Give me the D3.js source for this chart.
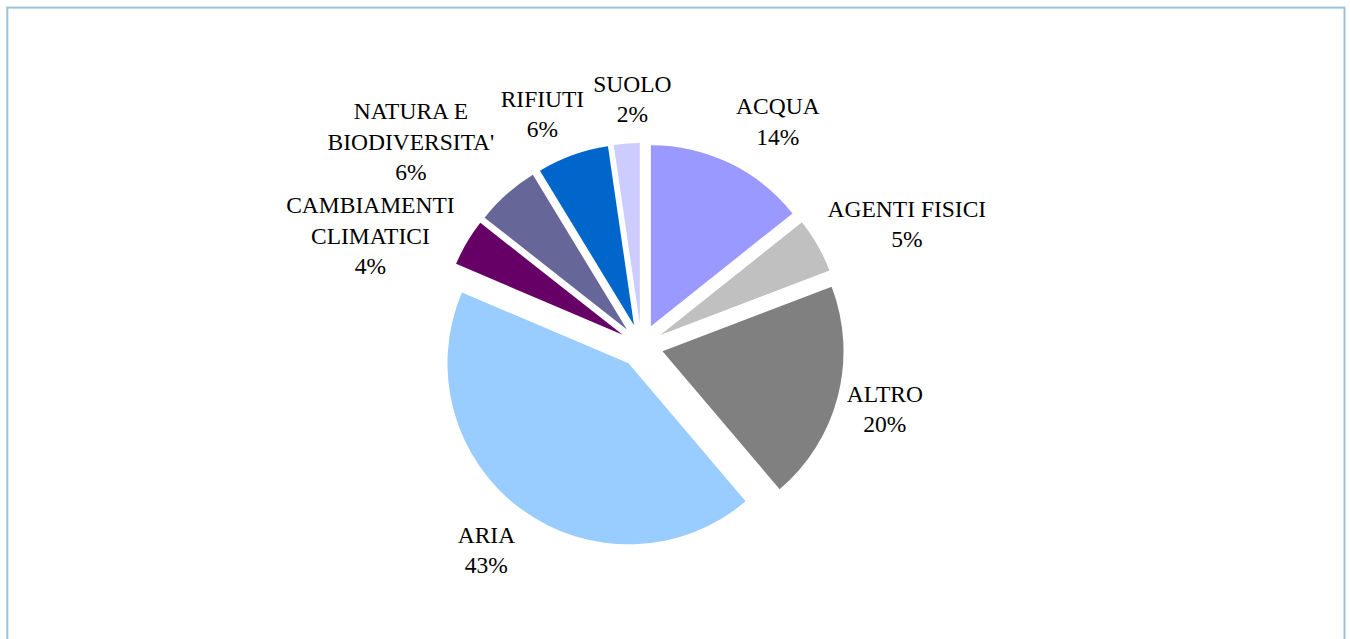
<!DOCTYPE html>
<html>
<head>
<meta charset="utf-8">
<script src="https://cdn.jsdelivr.net/npm/d3@7"></script>
<style>
  html, body { margin: 0; padding: 0; background: #fff; }
  svg { display: block; }
  svg text.lbl { font-family: 'Liberation Serif' !important; }
</style>
</head>
<body>
<svg id="chart" width="1350" height="639"></svg>
<script>
// ---- data ----
const categories = ["ACQUA", "AGENTI FISICI", "ALTRO", "ARIA", "CAMBIAMENTI CLIMATICI", "NATURA E BIODIVERSITA'", "RIFIUTI", "SUOLO"];
const values = [14.3, 4.9, 19.6, 42.6, 4.2, 5.7, 6.4, 2.3];
const labelLines = [["ACQUA"], ["AGENTI FISICI"], ["ALTRO"], ["ARIA"], ["CAMBIAMENTI", "CLIMATICI"], ["NATURA E", "BIODIVERSITA'"], ["RIFIUTI"], ["SUOLO"]];
const colors = ["#9999FF", "#C0C0C0", "#808080", "#99CCFF", "#660066", "#666699", "#0066CC", "#CCCCFF"];

// ---- layout ----
const cx = 641.4, cy = 345.8, radius = 181, explode = 21.8;
const fontSize = 23.5, lineH = 30.5;
// label anchor (first baseline), relative to pie center
const labelAnchors = [
  [136.5, -231.5], [265.5, -129.1], [243.5, 55.9], [-155, 196.9],
  [-271, -132.5], [-230.5, -226.5], [-99, -239.1], [-9, -254.1]
];

const svg = d3.select("#chart");

svg.append("rect")
  .attr("x", 7.3).attr("y", 7.6)
  .attr("width", 1337.2).attr("height", 640)
  .attr("fill", "none")
  .attr("stroke", "#9BC2D8")
  .attr("stroke-width", 2);

const total = d3.sum(values);
const data = categories.map((c, i) => ({ name: c, value: values[i], lines: labelLines[i], color: colors[i], anchor: labelAnchors[i] }));

const pie = d3.pie().sort(null).value(d => d.value).startAngle(0).endAngle(2 * Math.PI);
const arc = d3.arc().innerRadius(0).outerRadius(radius);
const arcs = pie(data);

const g = svg.append("g").attr("transform", `translate(${cx},${cy})`);

g.selectAll("path.slice")
  .data(arcs)
  .join("path")
  .attr("class", "slice")
  .attr("d", arc)
  .attr("fill", d => d.data.color)
  .attr("transform", d => {
    const a = (d.startAngle + d.endAngle) / 2;
    return `translate(${explode * Math.sin(a)},${-explode * Math.cos(a)})`;
  });

const pct = d3.format(".0%");
const lineItems = [];
arcs.forEach(d => {
  const lines = d.data.lines.concat([pct(d.data.value / total)]);
  lines.forEach((ln, i) => lineItems.push({ text: ln, x: d.data.anchor[0], y: d.data.anchor[1] + i * lineH }));
});

svg.selectAll("text.lbl")
  .data(lineItems)
  .join("text")
  .attr("class", "lbl")
  .attr("text-anchor", "middle")
  .attr("font-family", "Liberation Serif")
  .style("font-size", fontSize + "px")
  .attr("fill", "#000")
  .attr("x", d => cx + d.x)
  .attr("y", d => cy + d.y)
  .text(d => d.text);
</script>
</body>
</html>
